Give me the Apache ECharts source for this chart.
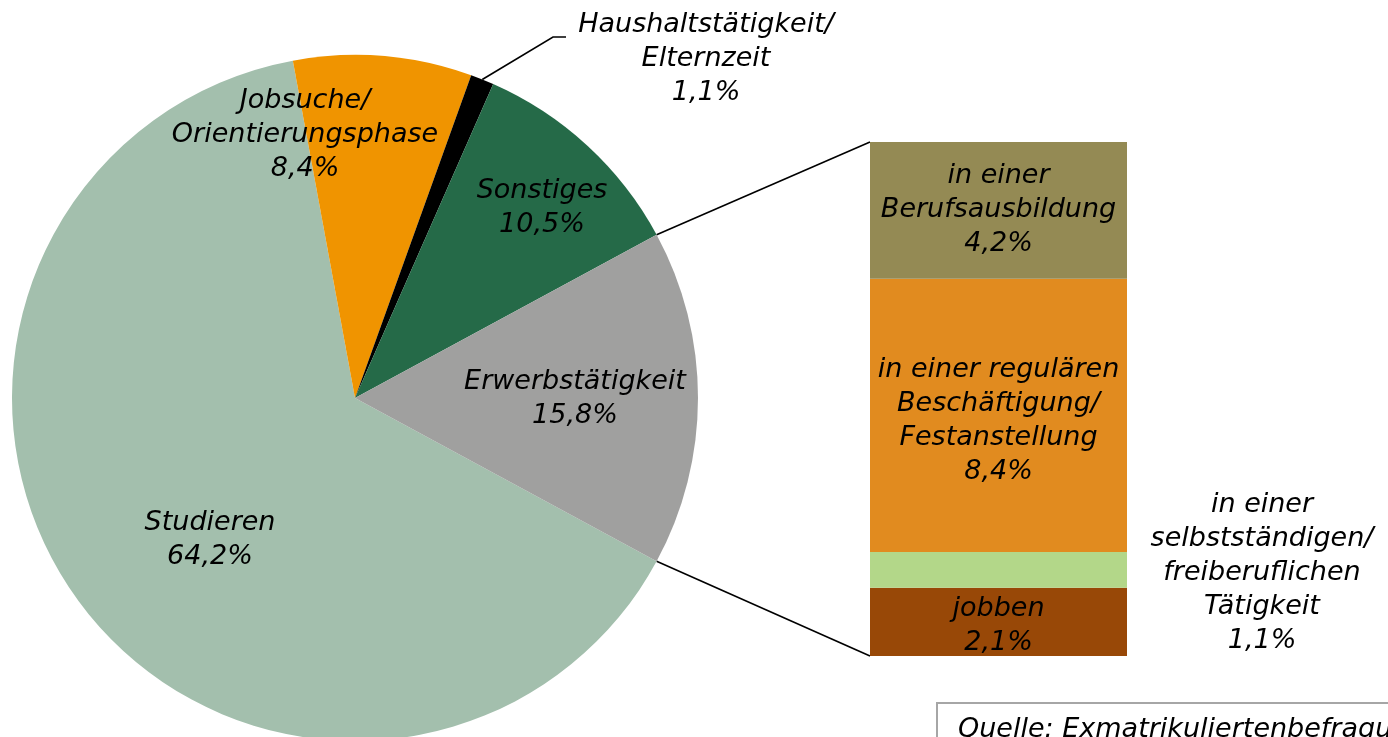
<!DOCTYPE html>
<html>
<head>
<meta charset="utf-8">
<script src="https://cdn.jsdelivr.net/npm/echarts@6/dist/echarts.min.js"></script>
<style>
  html, body { margin: 0; padding: 0; background: #fff; }
  #chart { width: 1388px; height: 737px; }
</style>
</head>
<body>
<div id="chart"></div>
<script>
// pie: main activities
const pieNames = [
  "Studieren",
  "Jobsuche/\nOrientierungsphase",
  "Haushaltstätigkeit/\nElternzeit",
  "Sonstiges",
  "Erwerbstätigkeit",
];
const pieValues = [64.2, 8.4, 1.1, 10.5, 15.8];
const pieColors = ["#A3BFAD", "#F09400", "#000000", "#256A48", "#A0A09F"];

// bar: breakdown of Erwerbstätigkeit (bottom to top)
const barNames = [
  "jobben",
  "in einer\nselbstständigen/\nfreiberuflichen\nTätigkeit",
  "in einer regulären\nBeschäftigung/\nFestanstellung",
  "in einer\nBerufsausbildung",
];
const barValues = [2.1, 1.1, 8.4, 4.2];
const barColors = ["#984807", "#B3D789", "#E18B1F", "#948A54"];

const sourceText = "Quelle: Exmatrikuliertenbefragung";

const FONT = "'DejaVu Sans', sans-serif";
const fmt = (v) => v.toFixed(1).replace(".", ",") + "%";

// where the pie labels sit (centre of text block)
const pieLabelPos = [
  [210, 540],
  [305, 135],
  [706, 59],
  [542, 208],
  [575, 399],
];
// small vertical nudges for the bar labels
const barLabelOffset = [4, 3, 6, 0];

const pieTotal = pieValues.reduce((a, b) => a + b, 0);
const explodedIdx = 4;
const startAngle = -((pieValues[explodedIdx] / pieTotal) * 360) / 2;

const chart = echarts.init(document.getElementById("chart"));

const baseLabel = {
  color: "#000",
  fontFamily: FONT,
  fontStyle: "italic",
  fontSize: 27,
  lineHeight: 34,
  align: "center",
  verticalAlign: "middle",
};

chart.setOption({
  animation: false,
  backgroundColor: "#fff",
  grid: { left: 870, top: 142, width: 257, height: 514 },
  xAxis: { type: "category", data: ["Erwerbstätigkeit"], show: false },
  yAxis: {
    type: "value",
    min: 0,
    max: barValues.reduce((a, b) => a + b, 0),
    show: false,
  },
  series: [
    {
      type: "pie",
      center: [355, 398],
      radius: 343,
      startAngle: startAngle,
      clockwise: true,
      silent: true,
      data: pieNames.map((n, i) => ({
        name: n,
        value: pieValues[i],
        itemStyle: { color: pieColors[i] },
      })),
      label: {
        ...baseLabel,
        position: "inside",
        formatter: (p) => p.name + "\n" + fmt(p.value),
      },
      labelLine: { show: false },
      labelLayout: (p) => ({
        x: pieLabelPos[p.dataIndex][0],
        y: pieLabelPos[p.dataIndex][1],
        align: "center",
        verticalAlign: "middle",
      }),
    },
    ...barNames.map((n, i) => ({
      type: "bar",
      name: n,
      stack: "erw",
      barWidth: "100%",
      silent: true,
      data: [barValues[i]],
      itemStyle: { color: barColors[i] },
      label: {
        ...baseLabel,
        show: true,
        position: i === 1 ? "right" : "inside",
        distance: i === 1 ? 135 : 5,
        offset: [0, barLabelOffset[i]],
        formatter: (p) => n + "\n" + fmt(p.value),
      },
    })),
  ],
});

// connector lines and leader line, from the laid-out marks
function addLines() {
  const model = chart.getModel();
  const pieData = model.getSeriesByIndex(0).getData();
  const lay = pieData.getItemLayout(explodedIdx);
  const pt = (a, r) => [lay.cx + r * Math.cos(a), lay.cy + r * Math.sin(a)];
  const ends = [pt(lay.startAngle, lay.r), pt(lay.endAngle, lay.r)].sort(
    (a, b) => a[1] - b[1]
  );

  const top = model.getSeriesByIndex(barNames.length).getData().getItemLayout(0);
  const bot = model.getSeriesByIndex(1).getData().getItemLayout(0);
  const barTop = [Math.min(top.x, top.x + top.width), Math.min(top.y, top.y + top.height)];
  const barBot = [Math.min(bot.x, bot.x + bot.width), Math.max(bot.y, bot.y + bot.height)];

  const hh = pieData.getItemLayout(2);
  const mid = (hh.startAngle + hh.endAngle) / 2;
  const hhEdge = [hh.cx + hh.r * Math.cos(mid), hh.cy + hh.r * Math.sin(mid)];

  const line = (pts) => ({
    type: "polyline",
    silent: true,
    shape: { points: pts },
    style: { stroke: "#000", lineWidth: 1.6, fill: null },
  });

  chart.setOption({
    graphic: [
      line([ends[0], barTop]),
      line([ends[1], barBot]),
      line([hhEdge, [553, 37], [566, 37]]),
      {
        type: "rect",
        silent: true,
        shape: { x: 937, y: 703, width: 520, height: 70 },
        style: { fill: "#fff", stroke: "#A6A6A6", lineWidth: 2 },
      },
      {
        type: "text",
        silent: true,
        x: 958,
        y: 716,
        style: {
          text: sourceText,
          fill: "#000",
          font: "italic 27px " + FONT,
        },
      },
    ],
  });
}
addLines();
</script>
</body>
</html>
